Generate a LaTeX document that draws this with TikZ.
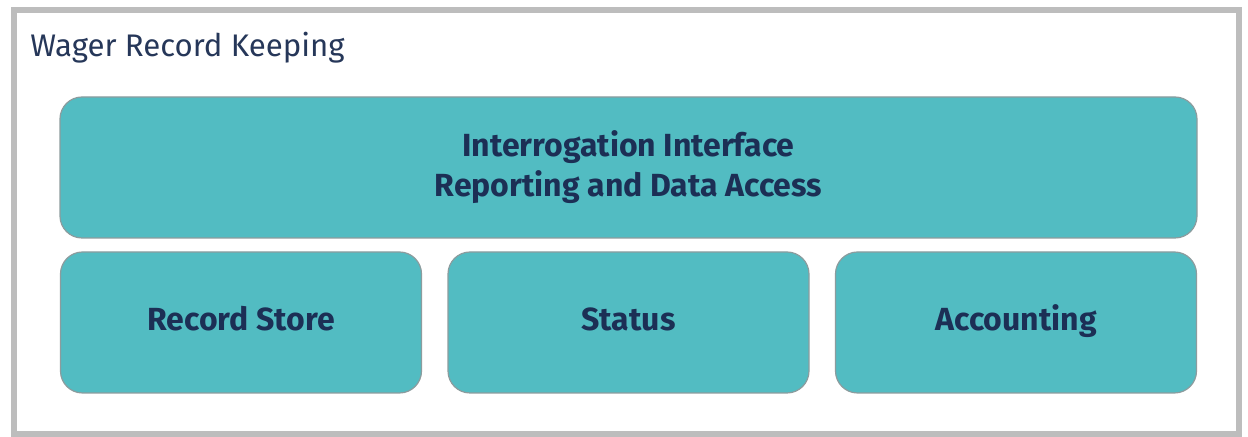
\documentclass[tikz,border=0pt]{standalone}
\usepackage{fontspec}
\setmainfont{Fira Sans}
\usetikzlibrary{positioning}

\definecolor{boxfill}{HTML}{52BCC2}
\definecolor{boxline}{HTML}{8C9C9E}
\definecolor{framecol}{HTML}{BDBDBD}
\definecolor{inkcol}{HTML}{1C2F55}

\begin{document}
\begin{tikzpicture}[x=0.5pt,y=-0.5pt]

% ---------- styles ----------
\tikzset{
  block/.style={
    draw=boxline, fill=boxfill, line width=0.6pt,
    rounded corners=11pt, inner sep=0pt,
    minimum height=70.5pt,
    text=inkcol, align=center,
    font=\bfseries\fontsize{16}{20}\selectfont
  },
  wide/.style={block, minimum width=568.5pt},
  narrow/.style={block, minimum width=180.5pt,
    text height=11.5pt, text depth=3.5pt}
}

% ---------- page ----------
\useasboundingbox (0,0) rectangle (1248,437);
\fill[white] (0,0) rectangle (1248,437);

% ---------- outer frame ----------
\draw[framecol, line width=3pt] (13.5,10) rectangle (1239,434);
\node[anchor=base west, inner sep=0pt, text=inkcol!90!gray,
  font=\fontsize{15.6}{18}\selectfont] (title) at (30,57) {Wager Record Keeping};

% ---------- blocks ----------
\node[wide] (iface) at (628.5,167.5)
  {Interrogation Interface\\Reporting and Data Access};

\node[narrow] (store)  at (241,322.5)    {Record Store};
\node[narrow] (status) at (628.5,322.5)  {Status};
\node[narrow] (acct)   at (1016,322.5)   {Accounting};

\end{tikzpicture}
\end{document}
